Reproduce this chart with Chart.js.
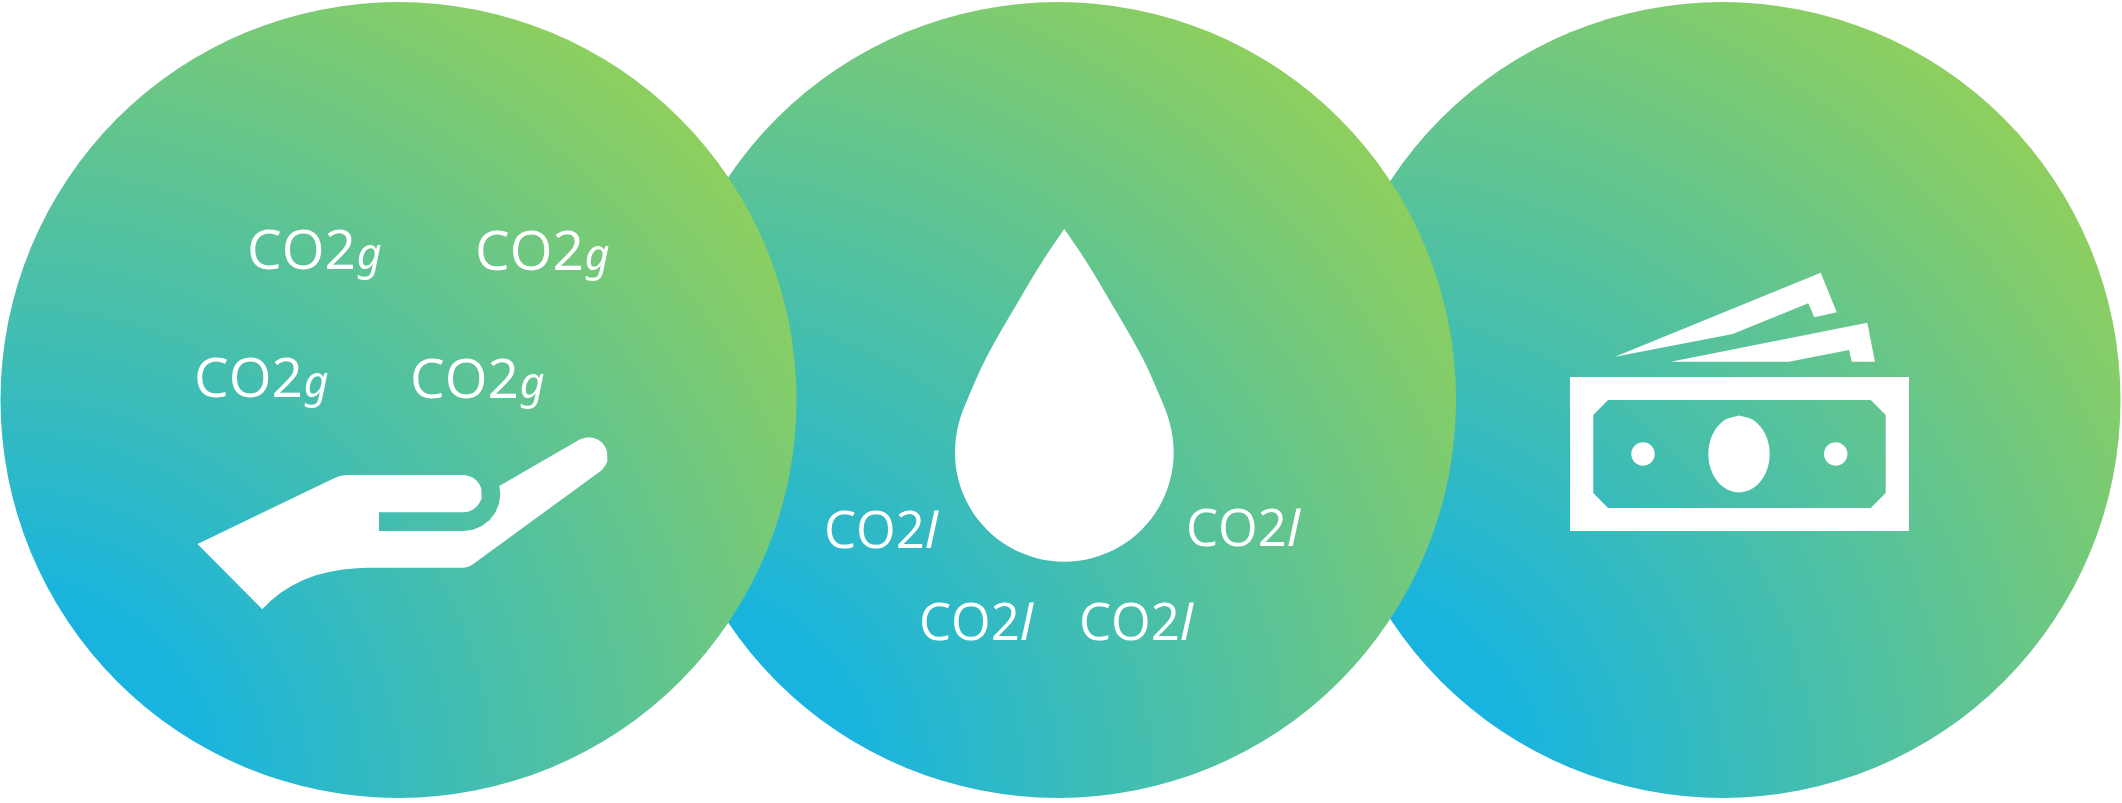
<!DOCTYPE html>
<html>
<head>
<meta charset="utf-8">
<style>
  html, body { margin: 0; padding: 0; background: #fff; }
  canvas { display: block; }
</style>
<script src="https://cdn.jsdelivr.net/npm/chart.js@4"></script>
</head>
<body>
<canvas id="chart" width="2122" height="803"></canvas>
<script>
// circles, back to front
const circleX = [1722.5, 1058, 398.5];
const circleY = [400, 400, 400];

// labels: main text, italic unit, anchor points
const gramText = ['CO2', 'g'];
const gramX = [247, 475, 194, 410];
const gramY = [269, 270, 397, 398];
const litreText = ['CO2', 'l'];
const litreX = [824, 1186, 919, 1079];
const litreY = [548, 546, 640, 640];

const hand = [[197.5,544],[333,478.7],[337,477],[341,475.8],[345,475.2],[349,475],[463.3,475],
  [468.13,475.64],[472.63,477.5],[476.49,480.46],[479.45,484.32],[481.31,488.82],[481.95,493.65],
  [481.31,498.48],[479.45,502.98],[476.49,506.84],[472.63,509.8],[468.13,511.66],[463.3,512.3],
  [379,512.3],[379,531],[463.3,531],
  [472.88,529.74],[481.8,526.04],[489.46,520.16],[495.34,512.5],[499.04,503.58],[500.3,494],[499.3,486],
  [579.2,439.85],[583.78,437.95],[588.7,437.3],[593.62,437.95],[598.2,439.85],[602.14,442.86],[605.15,446.8],
  [607.05,451.38],[607.7,456.3],[607.05,461.22],[605.15,465.8],[602.14,469.74],[599.3,472.06],
  [473.3,564],[470,566],[466.7,567.2],[463.3,567.7],[380,567.7],[368,567.8],[356.7,568.3],[343,569.6],
  [330,571.7],[316,575.3],[303.3,580],[291,586.2],[280,593.3],[270.5,601],[262.3,609.3],[197.5,544]];

const drop = [[1064.3,229],[1043.3,260],[1013.3,310],[986.7,356.7],[968,398],[958.6,424],[955,452.3],
  [958.63,480.61],[969.56,507],[986.94,529.66],[1009.6,547.04],[1035.99,557.97],[1064.3,561.7],
  [1092.61,557.97],[1119,547.04],[1141.66,529.66],[1159.04,507],[1169.97,480.61],[1173.7,452.3],
  [1170,424],[1160.6,398],[1141.9,356.7],[1115.3,310],[1085.3,260],[1064.3,229]];

const noteBack = [[1615,356.7],[1820.7,272.7],[1836.7,312.3],[1814.3,317.3],[1808.3,303.3],[1732.7,334],[1615,356.7]];
const noteMid = [[1670.7,361.7],[1867.3,322.7],[1875,361.7],[1851.7,361.7],[1849,350],[1789,361.7],[1670.7,361.7]];
const billFrame = [[1570,377],[1909,377],[1909,531],[1570,531],[1570,415],[1593.3,415],[1593.3,493],[1608,508],
  [1870.7,508],[1885.7,493],[1885.7,415],[1870.7,400],[1608,400],[1593.3,415],[1570,415],[1570,377]];
const billOval = [[1739,415.5],[1754.35,420.66],[1765.59,434.75],[1769.7,454],[1765.59,473.25],[1754.35,487.34],
  [1739,492.5],[1723.65,487.34],[1712.41,473.25],[1708.3,454],[1712.41,434.75],[1723.65,420.66],[1739,415.5]];
const billDotX = [1643, 1835.7];
const billDotY = [454, 454];

const toPoints = (pairs) => pairs.map((p) => ({x: p[0], y: p[1]}));
const zip = (xs, ys) => xs.map((x, i) => ({x: x, y: ys[i]}));

function shape(pairs, tension) {
    return {
        data: toPoints(pairs),
        showLine: true,
        fill: 'shape',
        backgroundColor: '#fff',
        borderWidth: 0,
        pointRadius: 0,
        tension: tension || 0
    };
}

// the colour bends round a spot off the lower left of each circle
function circleFill(context) {
    if (!context.raw) return '#18b4df';
    const {x, y} = context.chart.scales;
    const cx = x.getPixelForValue(context.raw.x);
    const cy = y.getPixelForValue(context.raw.y);
    // scales are not placed yet on the first options pass
    if (!isFinite(cx) || !isFinite(cy)) return '#18b4df';
    const g = context.chart.ctx.createRadialGradient(cx - 400, cy + 400, 200, cx - 400, cy + 400, 964);
    g.addColorStop(0, '#18b4df');
    g.addColorStop(1, '#8ecf5e');
    return g;
}

const labelsPlugin = {
    id: 'labels',
    afterDatasetsDraw(chart) {
        const c = chart.ctx;
        const {x, y} = chart.scales;
        c.save();
        c.fillStyle = '#fff';
        c.textBaseline = 'alphabetic';
        const put = (texts, xs, ys, size, unitSize, gap) => {
            xs.forEach((v, i) => {
                const px = x.getPixelForValue(v);
                const py = y.getPixelForValue(ys[i]);
                c.font = size + 'px "Open Sans"';
                c.fillText(texts[0], px, py);
                const w = c.measureText(texts[0]).width;
                c.font = 'italic ' + unitSize + 'px "Noto Sans"';
                c.fillText(texts[1], px + w + gap, py);
            });
        };
        put(gramText, gramX, gramY, 55, 43, 1);
        put(litreText, litreX, litreY, 51, 50, 0);
        c.restore();
    }
};

new Chart(document.getElementById('chart'), {
    type: 'scatter',
    data: {
        datasets: [
            {data: zip(billDotX, billDotY), backgroundColor: '#fff', borderWidth: 0, pointRadius: 11.7},
            shape(billOval, 0.35),
            shape(billFrame),
            shape(noteMid),
            shape(noteBack),
            shape(drop, 0.35),
            shape(hand),
            {data: zip(circleX, circleY), backgroundColor: circleFill, borderWidth: 0, pointRadius: 398}
        ]
    },
    options: {
        responsive: false,
        animation: false,
        events: [],
        layout: {padding: 0, autoPadding: false},
        plugins: {legend: {display: false}, tooltip: {enabled: false}},
        scales: {
            x: {type: 'linear', min: 0, max: 2122, display: false},
            y: {type: 'linear', min: 0, max: 803, reverse: true, display: false}
        }
    },
    plugins: [labelsPlugin]
});
</script>
</body>
</html>
